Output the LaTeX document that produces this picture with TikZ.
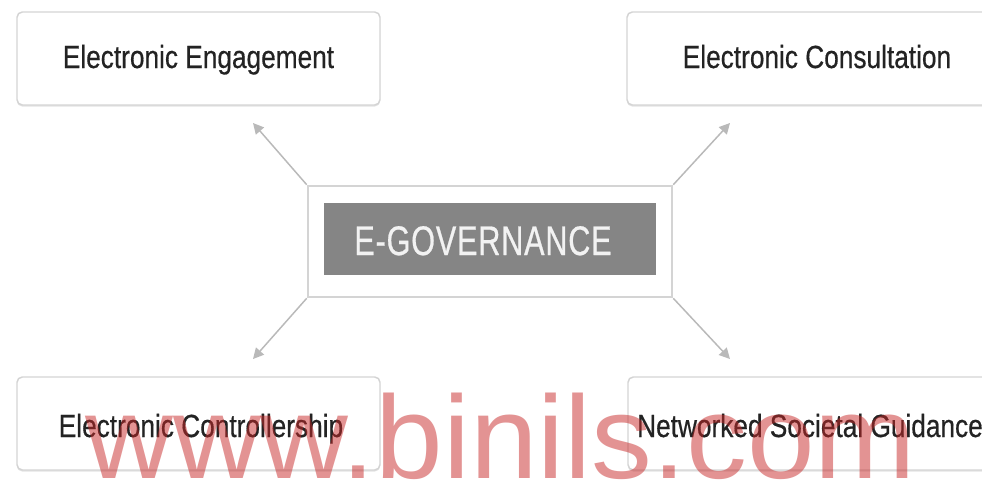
\documentclass[tikz,border=0pt]{standalone}
\usepackage{fontspec}
\usetikzlibrary{shadows,arrows.meta}
\newfontfamily\boxfont[FakeStretch=0.82,FakeBold=0.5]{Liberation Sans}
\newfontfamily\egovfont[FakeStretch=0.74,LetterSpace=2,FakeBold=0.6]{Liberation Sans}
\newfontfamily\wmfont[FakeStretch=1.03]{Liberation Sans}
\definecolor{boxborder}{RGB}{212,212,212}
\definecolor{boxtext}{RGB}{35,35,35}
\definecolor{innerfill}{RGB}{133,133,133}
\definecolor{arrowgray}{RGB}{185,185,185}
\definecolor{wmred}{RGB}{200,40,40}
\tikzset{
  leafbox/.style={draw=boxborder, line width=1.1pt, rounded corners=4pt, fill=white,
    minimum width=272.25pt, minimum height=69.75pt, inner sep=0,
    drop shadow={opacity=0.22, shadow xshift=0pt, shadow yshift=-1.2pt}},
  leaftext/.style={font=\boxfont\fontsize{24}{28}\selectfont, text=boxtext, inner sep=0, anchor=base},
  outerbox/.style={draw=boxborder, line width=2pt, fill=white,
    minimum width=273pt, minimum height=83.25pt, inner sep=0},
  innerbox/.style={fill=innerfill, minimum width=249pt, minimum height=54pt, inner sep=0},
  egovtext/.style={text=white!95!black, font=\egovfont\fontsize{31}{34}\selectfont, inner sep=0, anchor=base},
  connector/.style={draw=arrowgray, line width=1.1pt, -{Triangle[length=8pt,width=8pt]}},
  watermark/.style={text=wmred, text opacity=0.5, font=\wmfont\fontsize{88.5}{90}\selectfont, inner sep=0, anchor=base west}
}
\begin{document}
\begin{tikzpicture}[x=0.75pt,y=-0.75pt]
\useasboundingbox (0,0) rectangle (982,479);
\clip (0,0) rectangle (982,479);
\fill[white] (0,0) rectangle (982,479);
% leaf boxes
\node[leafbox] (engbox) at (198.5,58.5) {};
\node[leafbox] (consbox) at (808.5,58.5) {};
\node[leafbox] (ctrlbox) at (198.5,423.5) {};
\node[leafbox] (netwbox) at (809.5,423.5) {};
\node[leaftext] (eng) at (198.5,68) {Electronic Engagement};
\node[leaftext] (cons) at (817,68) {Electronic Consultation};
\node[leaftext] (ctrl) at (201,437) {Electronic Controllership};
\node[leaftext] (netw) at (810,437) {Networked Societal Guidance};
% centre
\node[outerbox] (outer) at (490,241.5) {};
\node[innerbox] (inner) at (490,239) {};
\node[egovtext] (egov) at (483,255) {E-GOVERNANCE};
% arrow tips
\coordinate (tl) at (253,123);
\coordinate (tr) at (730,123);
\coordinate (bl) at (253,359);
\coordinate (br) at (730,359);
\draw[connector] (outer.north west) -- (tl);
\draw[connector] (outer.north east) -- (tr);
\draw[connector] (outer.south west) -- (bl);
\draw[connector] (outer.south east) -- (br);
% watermark
\node[watermark] (wm) at (85,478) {www.binils.com};
\end{tikzpicture}
\end{document}
